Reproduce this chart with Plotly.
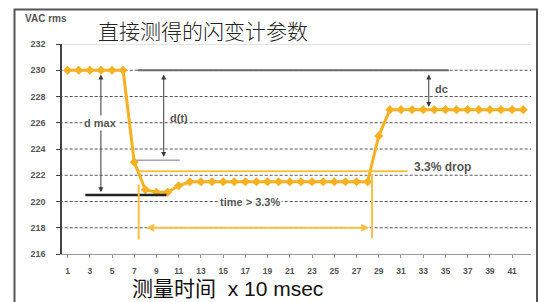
import plotly.graph_objects as go

# ---------------- data ----------------
time_idx = list(range(1, 43))
vac_rms = [230, 230, 230, 230, 230, 230,
           223.0, 220.9, 220.7, 220.7, 221.2, 221.5,
           221.5, 221.5, 221.5, 221.5, 221.5, 221.5, 221.5, 221.5,
           221.5, 221.5, 221.5, 221.5, 221.5, 221.5, 221.5, 221.5,
           225.0,
           227, 227, 227, 227, 227, 227, 227, 227, 227, 227, 227, 227, 227]
y_ticks = [216, 218, 220, 222, 224, 226, 228, 230, 232]
x_ticks = list(range(1, 42, 2))

nominal = 230
drop_level = 222.3      # 3.3% drop line
dmax_level = 220.5      # lowest level line
dt_level = 223.15       # d(t) reference level

title_text = "直接测得的闪变计参数"
xtitle_text = "测量时间  x 10 msec"
ylabel_text = "VAC rms"

ORANGE = "#F5B120"
ORANGE_L = "#F7C045"
DARK = "#3a3a3a"
TXT = "#555555"

# page offset (browser body margin) compensation
OFF = 8
PL, PR, PT, PB = 62, 531, 44, 254   # plot area in page pixels
PW, PH = PR - PL, PB - PT

def px(x):
    return (x - PL) / PW

def py(y):
    return (PB - y) / PH

fig = go.Figure()

fig.add_trace(go.Scatter(
    x=time_idx, y=vac_rms, mode="lines+markers",
    line=dict(color=ORANGE, width=3),
    marker=dict(symbol="diamond", size=7, color=ORANGE),
    hoverinfo="skip", showlegend=False, cliponaxis=False))

shapes = []
for t in y_ticks[1:-1]:
    shapes.append(dict(type="line", xref="paper", yref="y", x0=-0.005, x1=1.0,
                       y0=t, y1=t, line=dict(color="#555555", width=1, dash="3px,2px"),
                       layer="below"))
shapes.append(dict(type="line", xref="paper", yref="y", x0=0, x1=1.0,
                   y0=y_ticks[-1], y1=y_ticks[-1], line=dict(color="#c8c8c8", width=1),
                   layer="below"))
shapes.append(dict(type="line", xref="x", yref="y", x0=7.3, x1=35.3, y0=nominal, y1=nominal,
                   line=dict(color="#6a6a6a", width=2)))
shapes.append(dict(type="line", xref="x", yref="y", x0=2.6, x1=9.9, y0=dmax_level, y1=dmax_level,
                   line=dict(color="#222222", width=2.5)))
shapes.append(dict(type="line", xref="x", yref="y", x0=7.2, x1=11.1, y0=dt_level, y1=dt_level,
                   line=dict(color="#777777", width=1)))
shapes.append(dict(type="line", xref="x", yref="y", x0=7.4, x1=31.6, y0=drop_level, y1=drop_level,
                   line=dict(color=ORANGE_L, width=2)))
shapes.append(dict(type="line", xref="x", yref="y", x0=7.4, x1=7.4, y0=221.3, y1=217.1,
                   line=dict(color=ORANGE_L, width=2)))
shapes.append(dict(type="line", xref="x", yref="y", x0=28.4, x1=28.4, y0=222.1, y1=217.2,
                   line=dict(color=ORANGE_L, width=2)))
# outer frame
shapes.append(dict(type="rect", xref="paper", yref="paper", x0=px(14.5), x1=px(537),
                   y0=py(320), y1=py(9.5), line=dict(color="#555555", width=2)))

annotations = []
def dbl_arrow(x0, y0, x1, y1, color, width=1, size=1):
    annotations.append(dict(x=x1, y=y1, ax=x0, ay=y0, xref="x", yref="y", axref="x", ayref="y",
                            text="", showarrow=True, arrowhead=2, startarrowhead=2,
                            arrowside="end+start", arrowsize=size, startarrowsize=size,
                            arrowwidth=width, arrowcolor=color, standoff=0, startstandoff=0))

dbl_arrow(4.0, 229.8, 4.0, 220.7, DARK)
dbl_arrow(9.65, 229.8, 9.65, 223.4, DARK)
dbl_arrow(33.5, 229.8, 33.5, 227.2, DARK)
dbl_arrow(7.95, 218.0, 28.15, 218.0, ORANGE_L, width=2, size=0.8)

def label(x, y, text, size=10, anchor="center", bg="white"):
    annotations.append(dict(x=x, y=y, xref="x", yref="y", text=text, showarrow=False,
                            xanchor=anchor, yanchor="middle", bgcolor=bg, borderpad=1,
                            font=dict(family="Liberation Sans, Arial", size=size, color=TXT, weight="bold")))

label(4.0, 226.0, "d max", 11)
label(11.0, 226.4, "d(t)", 11, bg="rgba(255,255,255,0)")
label(33.9, 228.6, "dc", 11, anchor="left", bg="rgba(255,255,255,0)")
label(32.0, 222.6, "3.3% drop", 12, anchor="left", bg="rgba(255,255,255,0)")
label(17.4, 219.95, "time > 3.3%", 11)

annotations.append(dict(x=px(203), y=py(30), xref="paper", yref="paper",
                        text=title_text, showarrow=False, xanchor="center", yanchor="middle",
                        font=dict(family="Noto Sans CJK SC", size=21, color="#222222", weight=300)))
annotations.append(dict(x=px(227), y=py(288), xref="paper", yref="paper",
                        text=xtitle_text, showarrow=False, xanchor="center", yanchor="middle",
                        font=dict(family="Liberation Sans, Noto Sans CJK SC", size=21, color="#111111")))
annotations.append(dict(x=px(45.5), y=py(19), xref="paper", yref="paper",
                        text=ylabel_text, showarrow=False, xanchor="center", yanchor="middle",
                        font=dict(family="Liberation Sans, Arial", size=10, color=TXT, weight="bold")))

W, H = 546 - OFF, 302 - OFF
fig.update_layout(
    width=W, height=H,
    margin=dict(l=PL - OFF, r=W - (PR - OFF), t=PT - OFF, b=H - (PB - OFF)),
    paper_bgcolor="white", plot_bgcolor="white",
    shapes=shapes, annotations=annotations,
    xaxis=dict(range=[0.5, 42.7], tickmode="array", tickvals=x_ticks,
               ticktext=[str(v) for v in x_ticks], showgrid=False, zeroline=False,
               showline=True, linecolor="#999999", linewidth=1,
               ticks="outside", ticklen=3, tickcolor="#999999",
               ticklabelstandoff=6,
               tickfont=dict(family="Liberation Sans, Arial", size=8.5, color=TXT, weight="bold")),
    yaxis=dict(range=[216, 232], tickmode="array", tickvals=y_ticks,
               ticktext=[str(v) for v in y_ticks], showgrid=False, zeroline=False,
               showline=True, linecolor="#444444", linewidth=1.5,
               ticks="outside", ticklen=4, tickcolor="#444444",
               ticklabelstandoff=9,
               tickfont=dict(family="Liberation Sans, Arial", size=9, color=TXT, weight="bold")),
)

fig.write_html("out.html")
